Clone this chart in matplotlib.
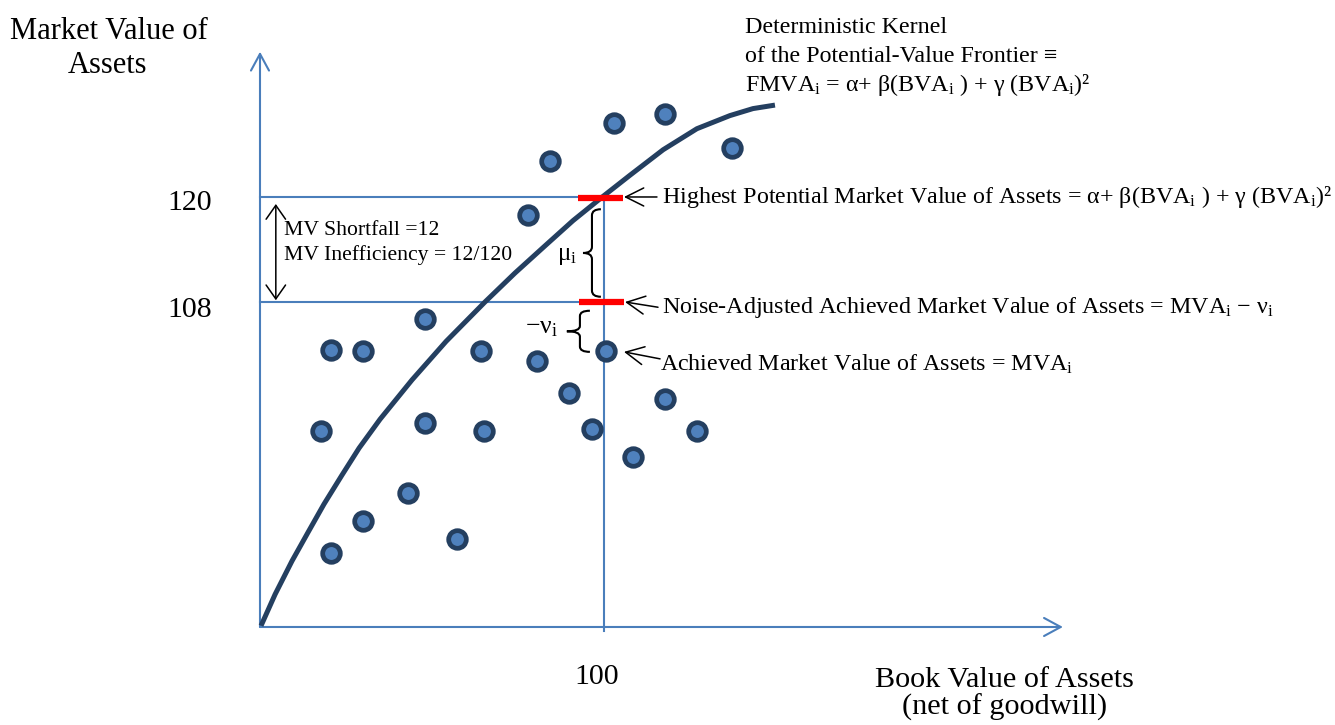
import numpy as np
import matplotlib
matplotlib.use('Agg')
import matplotlib.pyplot as plt
from matplotlib.path import Path
from matplotlib.patches import PathPatch

plt.rcParams['font.family'] = ['Liberation Serif', 'DejaVu Serif']
plt.rcParams['mathtext.fontset'] = 'custom'
plt.rcParams['mathtext.rm'] = 'Liberation Serif'
plt.rcParams['mathtext.it'] = 'Liberation Serif:italic'
plt.rcParams['mathtext.bf'] = 'Liberation Serif:bold'

# firms: book value vs market value (schematic units)
bva = [84.3, 102.9, 117.7, 137.2, 77.9, 48.0, 20.6, 29.9, 64.2, 80.5, 100.5, 89.8,
       117.7, 17.7, 48.0, 65.1, 96.5, 127.0, 108.4, 43.0, 29.9, 20.6, 57.3]
mva = [124.1, 128.5, 129.5, 125.6, 117.9, 106.1, 102.5, 102.4, 102.4, 101.3, 102.4, 97.6,
       96.9, 93.3, 94.2, 93.3, 93.5, 93.3, 90.3, 86.2, 83.0, 79.3, 80.9]

# frontier (deterministic kernel)
frontier_x = [0.3, 4.4, 9.3, 14.0, 18.6, 23.8, 28.8, 34.9, 44.2, 54.1, 65.4, 74.1,
              82.8, 91.0, 99.5, 107.6, 117.2, 127.0, 136.6, 143.3, 149.7]
frontier_y = [71.0, 74.6, 78.4, 81.7, 84.9, 88.2, 91.3, 94.6, 99.1, 103.5, 108.0, 111.3,
              114.4, 117.3, 120.0, 122.5, 125.4, 127.8, 129.3, 130.1, 130.5]

firm_bva = 100
potential_mv = 120
adjusted_mv = 108
x_origin, y_origin = 0, 70.86
x_end, y_end = 233.4, 136.6

blue = '#4a7ebb'
navy = '#243f60'

fig = plt.figure(figsize=(13.35, 7.25), dpi=100)
ax = fig.add_axes([0, 0, 1, 1])
ax.set_xlim(-75.58, 312.5)
ax.set_ylim(59.66, 142.51)
ax.axis('off')

def arrow(p_from, p_to, color='black', lw=1.1, hl=12, hw=6.5, style='->'):
    ax.annotate('', xy=p_to, xytext=p_from,
                arrowprops=dict(arrowstyle='%s,head_length=%s,head_width=%s' % (style, hl, hw),
                                color=color, lw=lw, shrinkA=0, shrinkB=0, mutation_scale=1))

def brace(x_tip, x_stem, x_ends, y_top, y_bot, r):
    ym = (y_top + y_bot) / 2
    verts = [(x_ends, y_top), (x_stem, y_top), (x_stem, y_top - r),
             (x_stem, ym + r), (x_stem, ym), (x_tip, ym),
             (x_stem, ym), (x_stem, ym - r),
             (x_stem, y_bot + r), (x_stem, y_bot), (x_ends, y_bot)]
    codes = [Path.MOVETO, Path.CURVE3, Path.CURVE3, Path.LINETO, Path.CURVE3, Path.CURVE3,
             Path.CURVE3, Path.CURVE3, Path.LINETO, Path.CURVE3, Path.CURVE3]
    ax.add_patch(PathPatch(Path(verts, codes), fill=False, lw=1.5, ec='black'))

# axes with open arrowheads
arrow((x_origin, y_origin), (x_origin, y_end), color=blue, lw=1.5, hl=12, hw=6.5)
arrow((x_origin, y_origin), (x_end, y_origin), color=blue, lw=1.5, hl=12, hw=6.5)

# reference lines
ax.plot([x_origin, firm_bva], [potential_mv, potential_mv], color=blue, lw=1.5)
ax.plot([x_origin, firm_bva], [adjusted_mv, adjusted_mv], color=blue, lw=1.5)
ax.plot([firm_bva, firm_bva], [70.4, potential_mv], color=blue, lw=1.5)

# frontier and firms
ax.plot(frontier_x, frontier_y, color=navy, lw=3.6, solid_capstyle='butt',
        solid_joinstyle='round', zorder=3)
ax.plot(bva, mva, 'o', ms=12.7, mfc='#4f81bd', mec=navy, mew=3.4, zorder=4)

# red markers on the firm's vertical
ax.plot([92.4, 105.5], [potential_mv - 0.1, potential_mv - 0.1], color='red', lw=4.5,
        solid_capstyle='butt', zorder=5)
ax.plot([92.6, 105.7], [adjusted_mv, adjusted_mv], color='red', lw=4.5,
        solid_capstyle='butt', zorder=5)

# shortfall double arrow
arrow((4.6, 108.2), (4.6, 119.2), lw=1.1, hl=10, hw=7, style='<->')
ax.text(7.0, 115.6, 'MV Shortfall =12', fontsize=15.6, va='baseline')
ax.text(7.0, 112.8, 'MV Inefficiency = 12/120', fontsize=15.6, va='baseline')

# braces
brace(93.9, 96.5, 99.1, 118.6, 108.6, 0.7)
ax.text(86.3, 112.8, r'μ$_\mathrm{i}$', fontsize=18, va='baseline')
brace(89.2, 93.0, 95.9, 107.0, 102.3, 0.6)
ax.text(77.0, 104.45, r'−ν$_\mathrm{i}$', fontsize=18.5, va='baseline')

# right-side annotations
fs = 17.3
arrow((115.4, 120.0), (105.8, 120.0), hl=13, hw=6.5)
ax.text(116.9, 119.3, r'Highest Potential Market Value of Assets = α+ β(BVA$_\mathrm{i}$ ) + γ (BVA$_\mathrm{i}$)²',
        fontsize=fs, va='baseline')
arrow((115.7, 107.4), (106.1, 108.0), hl=13, hw=6.5)
ax.text(116.9, 106.7, r'Noise-Adjusted Achieved Market Value of Assets = MVA$_\mathrm{i}$ − ν$_\mathrm{i}$',
        fontsize=fs, va='baseline')
arrow((116.3, 101.5), (105.8, 102.3), hl=13, hw=6.5)
ax.text(116.3, 100.2, r'Achieved Market Value of Assets = MVA$_\mathrm{i}$',
        fontsize=fs, va='baseline')

ax.text(141.0, 138.7, 'Deterministic Kernel', fontsize=fs, va='baseline')
ax.text(141.0, 135.4, 'of the Potential-Value Frontier ≡', fontsize=fs, va='baseline')
ax.text(141.0, 132.1, r'FMVA$_\mathrm{i}$ = α+ β(BVA$_\mathrm{i}$ ) + γ (BVA$_\mathrm{i}$)²',
        fontsize=fs, va='baseline')

# axis labels and ticks
ax.text(-43.9, 138.0, 'Market Value of', fontsize=22, ha='center', va='baseline')
ax.text(-44.3, 134.2, 'Assets', fontsize=22, ha='center', va='baseline')
ax.text(216.3, 64.0, 'Book Value of Assets', fontsize=21.8, ha='center', va='baseline')
ax.text(216.3, 60.8, '(net of goodwill)', fontsize=21.8, ha='center', va='baseline')
ax.text(-14.0, 118.5, str(potential_mv), fontsize=21.5, ha='right', va='baseline')
ax.text(-14.0, 106.3, str(adjusted_mv), fontsize=21.5, ha='right', va='baseline')
ax.text(98.0, 64.3, str(firm_bva), fontsize=21.5, ha='center', va='baseline')

fig.savefig('out.png', dpi=100)
